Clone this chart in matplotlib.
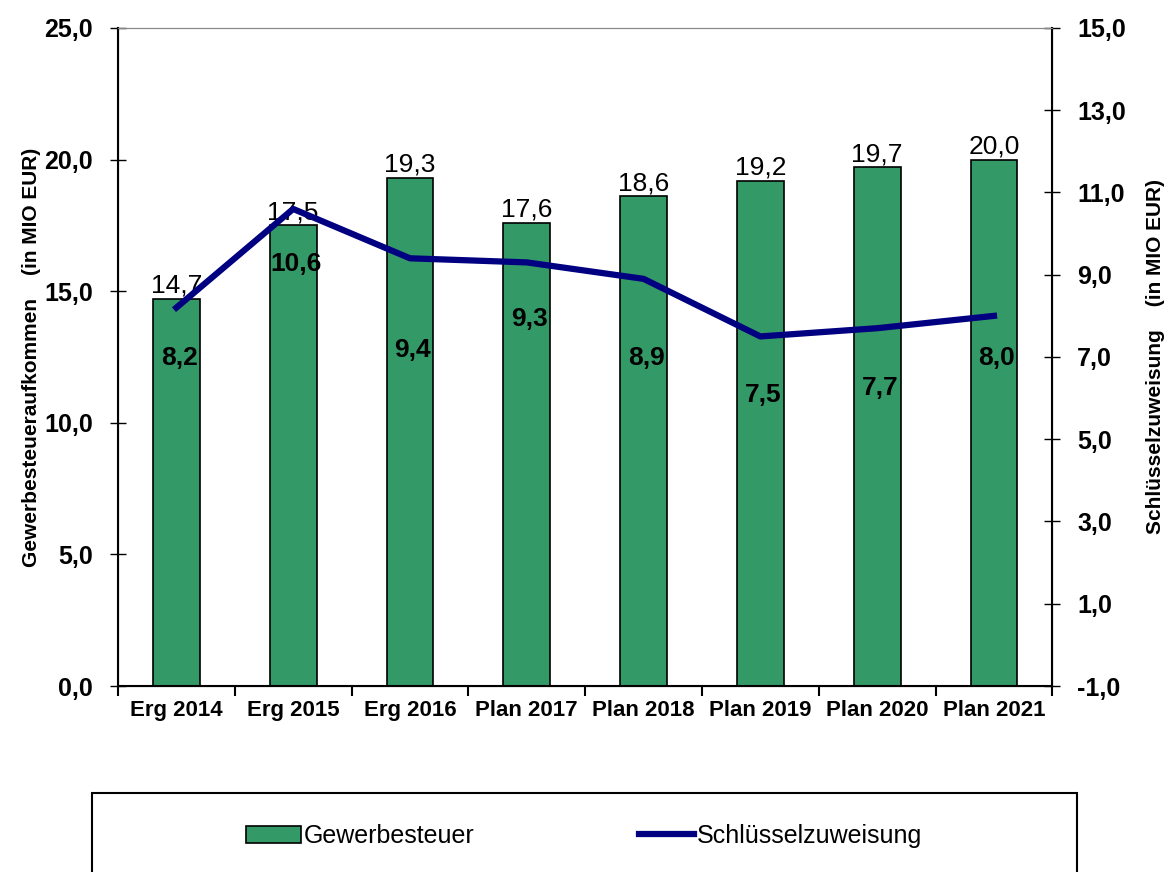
import numpy as np
import matplotlib.pyplot as plt
from matplotlib.ticker import FuncFormatter
from matplotlib.patches import Rectangle

plt.rcParams['font.family'] = ['Liberation Sans', 'DejaVu Sans']

kategorien = ['Erg 2014', 'Erg 2015', 'Erg 2016', 'Plan 2017', 'Plan 2018',
              'Plan 2019', 'Plan 2020', 'Plan 2021']
gewerbesteuer = [14.7, 17.5, 19.3, 17.6, 18.6, 19.2, 19.7, 20.0]
schluesselzuweisung = [8.2, 10.6, 9.4, 9.3, 8.9, 7.5, 7.7, 8.0]

# Abstand der Linienbeschriftung unter dem Punkt (in Punkten)
label_offsets = [-36, -40, -66, -41, -57, -42, -43, -30]


def komma(v, pos):
    return f'{v:.1f}'.replace('.', ',')


def main():
    fig = plt.figure(figsize=(11.68, 8.72), dpi=100)
    ax = fig.add_axes([0.101, 0.2133, 0.8, 0.7546])
    x = np.arange(len(kategorien))

    bars = ax.bar(x, gewerbesteuer, width=0.4, color='#339966',
                  edgecolor='black', linewidth=1.2, label='Gewerbesteuer', zorder=2)
    for xi, v in zip(x, gewerbesteuer):
        ax.annotate(komma(v, None), (xi, v), xytext=(0, 1), textcoords='offset points',
                    ha='center', va='bottom', fontsize=19, zorder=5)

    ax.set_xlim(-0.5, len(kategorien) - 0.5)
    ax.set_ylim(0, 25)
    ax.set_yticks(np.arange(0, 26, 5))
    ax.yaxis.set_major_formatter(FuncFormatter(komma))
    ax.set_xticks(np.arange(-0.5, len(kategorien), 1))
    ax.set_xticklabels([])
    ax.set_xticks(x, minor=True)
    ax.set_xticklabels(kategorien, minor=True, fontsize=16, fontweight='bold')
    ax.tick_params(axis='x', which='major', length=7, width=1.5, direction='out')
    ax.tick_params(axis='x', which='minor', length=0, pad=10)
    ax.tick_params(axis='y', length=12, width=1, direction='inout', labelsize=18, pad=12)
    for lab in ax.get_yticklabels():
        lab.set_fontweight('bold')
    ax.set_ylabel('Gewerbesteueraufkommen    (in MIO EUR)', fontsize=15,
                  fontweight='bold', labelpad=2)
    ax.spines['top'].set_color('#888888')
    ax.spines['left'].set_linewidth(1.5)
    ax.spines['bottom'].set_linewidth(1.5)

    ax2 = ax.twinx()
    line, = ax2.plot(x, schluesselzuweisung, color='#000080', linewidth=4.5,
                     label='Schlüsselzuweisung', zorder=3)
    for xi, v, off in zip(x, schluesselzuweisung, label_offsets):
        ax2.annotate(komma(v, None), (xi, v), xytext=(2, off), textcoords='offset points',
                     ha='center', va='center', fontsize=19, fontweight='bold')
    ax2.set_ylim(-1, 15)
    ax2.set_yticks(np.arange(-1, 16, 2))
    ax2.yaxis.set_major_formatter(FuncFormatter(komma))
    ax2.tick_params(axis='y', length=12, width=1, direction='inout', labelsize=18, pad=12)
    for lab in ax2.get_yticklabels():
        lab.set_fontweight('bold')
    ax2.set_ylabel('Schlüsselzuweisung    (in MIO EUR)', fontsize=15,
                   fontweight='bold', rotation=90, labelpad=14)
    ax2.spines['top'].set_color('#888888')
    ax2.spines['right'].set_linewidth(1.5)

    # Legendenrahmen
    fig.patches.append(Rectangle((0.0788, -0.05), 0.8433, 0.1406, transform=fig.transFigure,
                                 fill=False, edgecolor='black', linewidth=1.5))
    fig.legend([bars, line], ['Gewerbesteuer', 'Schlüsselzuweisung'], loc='center',
               bbox_to_anchor=(0.5, 0.041), ncol=2, frameon=False, fontsize=18,
               handlelength=2.2, handletextpad=0.1, columnspacing=6.6)

    fig.savefig('out.png', dpi=100)


if __name__ == '__main__':
    main()
